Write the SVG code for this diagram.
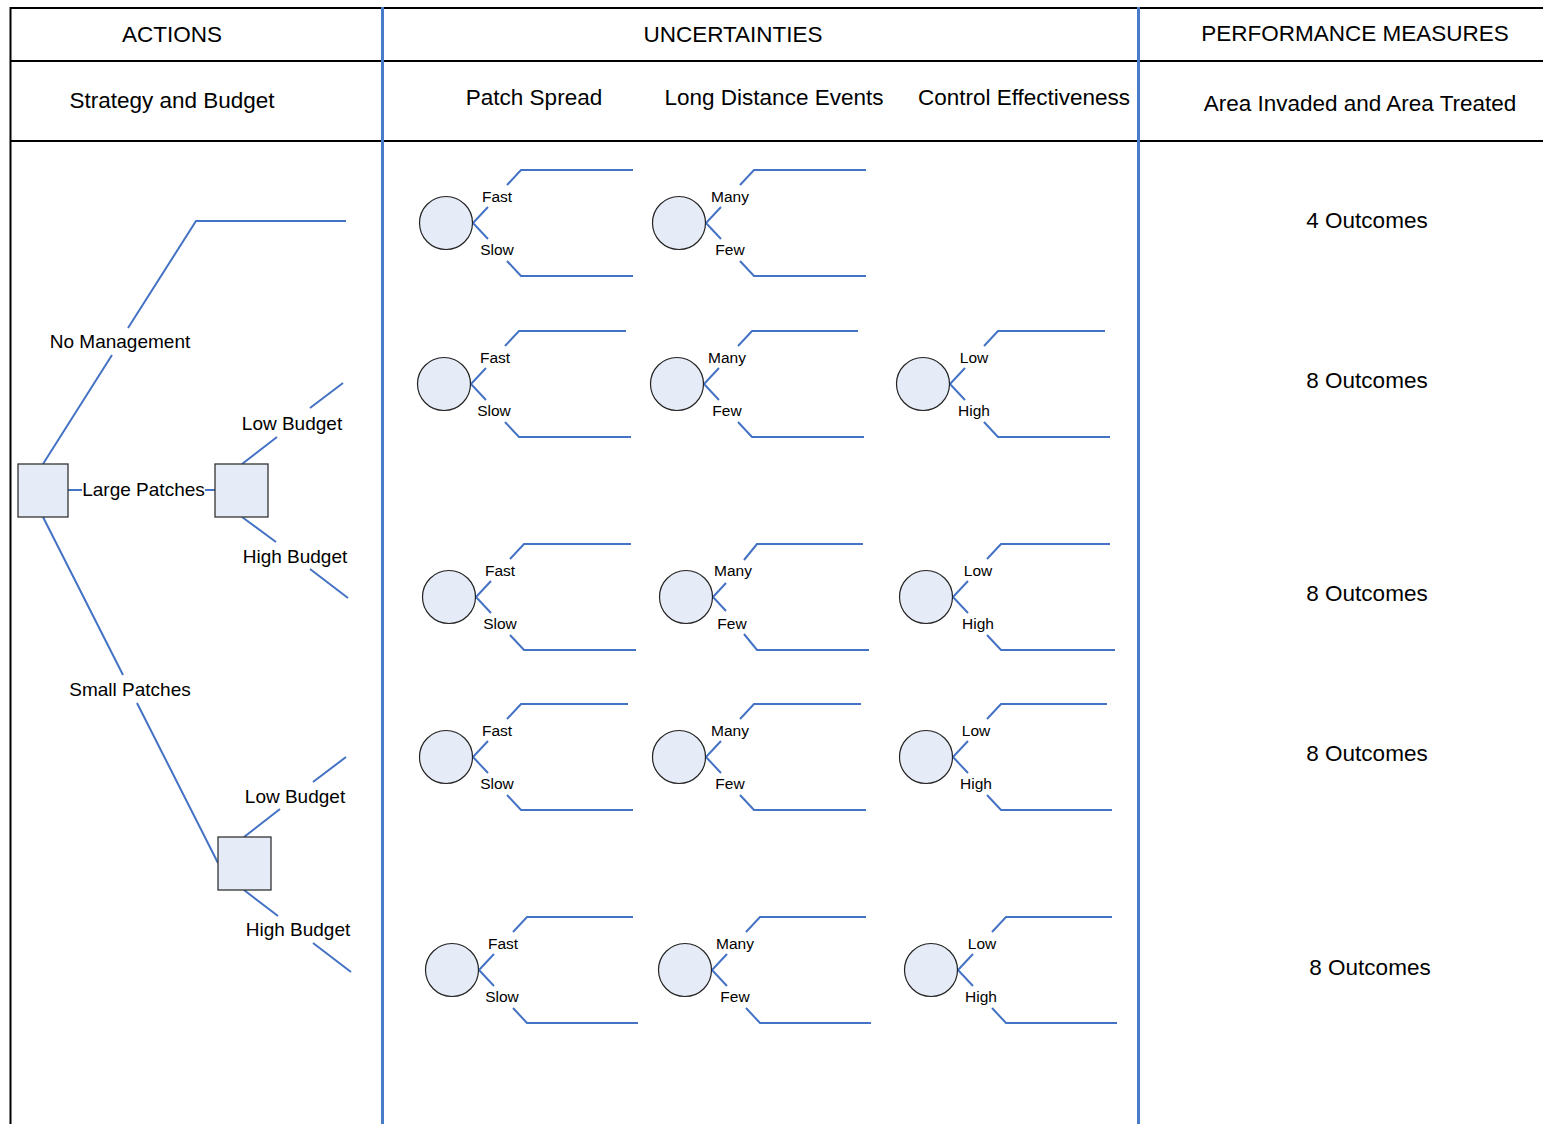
<svg xmlns="http://www.w3.org/2000/svg" width="1543" height="1124" viewBox="0 0 1543 1124">
<style>
.frame{stroke:#000;stroke-width:2;fill:none}
.col{stroke:#4A7BC8;stroke-width:3;fill:none}
.br{stroke:#4472C4;stroke-width:2;fill:none;stroke-linecap:butt}
.dec{fill:#E6ECF7;stroke:#333;stroke-width:1.3}
.ch{fill:#E6ECF7;stroke:#222;stroke-width:1.2}
text{font-family:"Liberation Sans",Arial,sans-serif;fill:#000;text-anchor:middle}
.h{font-size:22.5px}
.t{font-size:19px}
.s{font-size:15.5px}
</style>
<rect width="1543" height="1124" fill="#fff"/>
<g id="table">
<path class="frame" d="M10 8H1543M10 61H1543M10 141H1543M10.5 7V1124"/>
<path class="col" d="M382.5 7V1124M1138.5 7V1124"/>
<text class="h" x="172" y="42">ACTIONS</text>
<text class="h" x="733" y="42">UNCERTAINTIES</text>
<text class="h" x="1355" y="41">PERFORMANCE MEASURES</text>
<text class="h" x="172" y="108">Strategy and Budget</text>
<text class="h" x="534" y="105">Patch Spread</text>
<text class="h" x="774" y="105">Long Distance Events</text>
<text class="h" x="1024" y="105">Control Effectiveness</text>
<text class="h" x="1360" y="111">Area Invaded and Area Treated</text>
</g>
<g id="outcomes">
<text class="h" x="1367" y="228">4 Outcomes</text>
<text class="h" x="1367" y="388">8 Outcomes</text>
<text class="h" x="1367" y="601">8 Outcomes</text>
<text class="h" x="1367" y="761">8 Outcomes</text>
<text class="h" x="1370" y="975">8 Outcomes</text>
</g>
<g id="connectors">
<path class="br" d="M128 328L196 221H346M43 464L112 355"/>
<path class="br" d="M68 490H82M205 490H215"/>
<path class="br" d="M242 464L277 437M310 408L343 383"/>
<path class="br" d="M242 517L276 542M310 569L348 598"/>
<path class="br" d="M43 517L123 675M137 703L218 863"/>
<path class="br" d="M244 837L280 809M313 782L346 757"/>
<path class="br" d="M244 890L278 916M313 943L351 972"/>
<text class="t" x="120" y="348">No Management</text>
<text class="t" x="143.5" y="496">Large Patches</text>
<text class="t" x="292" y="430">Low Budget</text>
<text class="t" x="295" y="563">High Budget</text>
<text class="t" x="130" y="696">Small Patches</text>
<text class="t" x="295" y="803">Low Budget</text>
<text class="t" x="298" y="936">High Budget</text>
</g>
<g id="decision-root"><rect class="dec" x="18" y="464" width="50" height="53"/></g>
<g id="decision-large"><rect class="dec" x="215" y="464" width="53" height="53"/></g>
<g id="decision-small"><rect class="dec" x="218" y="837" width="53" height="53"/></g>

<g id="chance-r1-ps">
<path class="br" d="M473 223L488 207M507 185L521 170H633M473 223L488 239M507 261L521 276H633"/>
<circle class="ch" cx="446" cy="223" r="26.5"/>
<text class="s" x="497" y="201.5">Fast</text><text class="s" x="497" y="254.5">Slow</text>
</g>
<g id="chance-r1-lde">
<path class="br" d="M706 223L721 207M740 185L754 170H866M706 223L721 239M740 261L754 276H866"/>
<circle class="ch" cx="679" cy="223" r="26.5"/>
<text class="s" x="730" y="201.5">Many</text><text class="s" x="730" y="254.5">Few</text>
</g>

<g id="chance-r2-ps">
<path class="br" d="M471 384L486 368M505 346L519 331H626M471 384L486 400M505 422L519 437H631"/>
<circle class="ch" cx="444" cy="384" r="26.5"/>
<text class="s" x="495" y="362.5">Fast</text><text class="s" x="494" y="415.5">Slow</text>
</g>
<g id="chance-r2-lde">
<path class="br" d="M704 384L719 368M738 346L752 331H858M704 384L719 400M738 422L752 437H864"/>
<circle class="ch" cx="677" cy="384" r="26.5"/>
<text class="s" x="727" y="362.5">Many</text><text class="s" x="727" y="415.5">Few</text>
</g>
<g id="chance-r2-ce">
<path class="br" d="M950 384L965 368M984 346L998 331H1105M950 384L965 400M984 422L998 437H1110"/>
<circle class="ch" cx="923" cy="384" r="26.5"/>
<text class="s" x="974" y="362.5">Low</text><text class="s" x="974" y="415.5">High</text>
</g>

<g id="chance-r3-ps">
<path class="br" d="M476 597L491 581M510 559L524 544H631M476 597L491 613M510 635L524 650H636"/>
<circle class="ch" cx="449" cy="597" r="26.5"/>
<text class="s" x="500" y="575.5">Fast</text><text class="s" x="500" y="628.5">Slow</text>
</g>
<g id="chance-r3-lde">
<path class="br" d="M713 597L726 583M744 560L757 544H863M713 597L726 611M744 634L757 650H869"/>
<circle class="ch" cx="686" cy="597" r="26.5"/>
<text class="s" x="733" y="575.5">Many</text><text class="s" x="732" y="628.5">Few</text>
</g>
<g id="chance-r3-ce">
<path class="br" d="M953 597L968 581M987 559L1001 544H1110M953 597L968 613M987 635L1001 650H1115"/>
<circle class="ch" cx="926" cy="597" r="26.5"/>
<text class="s" x="978" y="575.5">Low</text><text class="s" x="978" y="628.5">High</text>
</g>

<g id="chance-r4-ps">
<path class="br" d="M473 757L488 741M507 719L521 704H628M473 757L488 773M507 795L521 810H633"/>
<circle class="ch" cx="446" cy="757" r="26.5"/>
<text class="s" x="497" y="735.5">Fast</text><text class="s" x="497" y="788.5">Slow</text>
</g>
<g id="chance-r4-lde">
<path class="br" d="M706 757L721 741M740 719L754 704H861M706 757L721 773M740 795L754 810H866"/>
<circle class="ch" cx="679" cy="757" r="26.5"/>
<text class="s" x="730" y="735.5">Many</text><text class="s" x="730" y="788.5">Few</text>
</g>
<g id="chance-r4-ce">
<path class="br" d="M953 757L968 741M987 719L1001 704H1107M953 757L968 773M987 795L1001 810H1112"/>
<circle class="ch" cx="926" cy="757" r="26.5"/>
<text class="s" x="976" y="735.5">Low</text><text class="s" x="976" y="788.5">High</text>
</g>

<g id="chance-r5-ps">
<path class="br" d="M479 970L494 954M513 932L527 917H633M479 970L494 986M513 1008L527 1023H638"/>
<circle class="ch" cx="452" cy="970" r="26.5"/>
<text class="s" x="503" y="948.5">Fast</text><text class="s" x="502" y="1001.5">Slow</text>
</g>
<g id="chance-r5-lde">
<path class="br" d="M712 970L727 954M746 932L760 917H866M712 970L727 986M746 1008L760 1023H871"/>
<circle class="ch" cx="685" cy="970" r="26.5"/>
<text class="s" x="735" y="948.5">Many</text><text class="s" x="735" y="1001.5">Few</text>
</g>
<g id="chance-r5-ce">
<path class="br" d="M958 970L973 954M992 932L1006 917H1112M958 970L973 986M992 1008L1006 1023H1117"/>
<circle class="ch" cx="931" cy="970" r="26.5"/>
<text class="s" x="982" y="948.5">Low</text><text class="s" x="981" y="1001.5">High</text>
</g>
</svg>
